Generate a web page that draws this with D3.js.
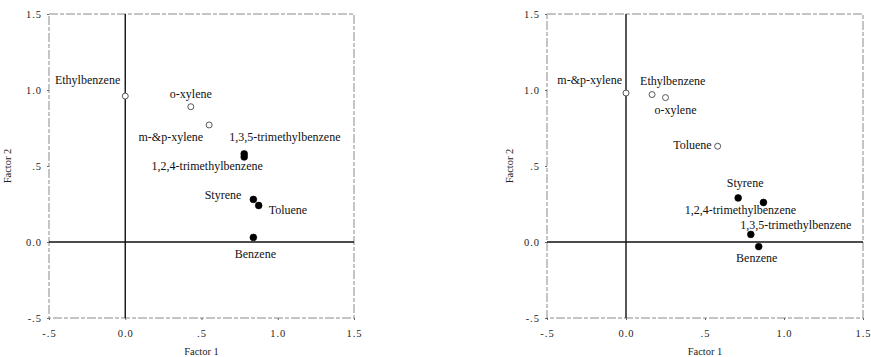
<!DOCTYPE html>
<html>
<head>
<meta charset="utf-8">
<script src="https://cdn.jsdelivr.net/npm/d3@7"></script>
<style>
  body { margin: 0; background: #fff; }
  svg { display: block; font-family: "Liberation Serif", "Times New Roman", serif; }
  .tick text { font-size: 10.5px; fill: #222; letter-spacing: 1px; }
  .axisText { font-size: 10.5px; fill: #222; }
  .ptLabel { font-size: 12px; fill: #111; }
</style>
</head>
<body>
<div class="chart"></div>
<script>
// axis ticks shared by both panels
var tickValues = [-0.5, 0, 0.5, 1.0, 1.5];
var tickLabels = ["-.5", "0.0", ".5", "1.0", "1.5"];

// left panel
var leftNames = ["Ethylbenzene", "o-xylene", "m-&p-xylene", "1,3,5-trimethylbenzene",
    "1,2,4-trimethylbenzene", "Styrene", "Toluene", "Benzene"];
var leftFactor1 = [0.0, 0.43, 0.55, 0.78, 0.78, 0.84, 0.875, 0.84];
var leftFactor2 = [0.96, 0.89, 0.77, 0.58, 0.56, 0.28, 0.24, 0.03];
var leftOpen = [true, true, true, false, false, false, false, false];

// right panel
var rightNames = ["m-&p-xylene", "Ethylbenzene", "o-xylene", "Toluene", "Styrene",
    "1,2,4-trimethylbenzene", "1,3,5-trimethylbenzene", "Benzene"];
var rightFactor1 = [0.0, 0.165, 0.25, 0.58, 0.71, 0.87, 0.79, 0.84];
var rightFactor2 = [0.98, 0.97, 0.95, 0.63, 0.29, 0.26, 0.05, -0.03];
var rightOpen = [true, true, true, true, false, false, false, false];

// label placement (pixel offsets from each point, and anchor)
var leftLabelPos = [[-5, -12, "end"], [0, -9, "middle"], [-6, 16, "end"], [-15, -13, "start"],
    [-37, 13, "middle"], [-12, 0, "end"], [10, 8, "start"], [2, 21, "middle"]];
var rightLabelPos = [[-4, -9, "end"], [-12, -10, "start"], [-11, 16, "start"], [-6, 3, "end"],
    [7, -11, "middle"], [-23, 12, "middle"], [45, -5, "middle"], [-2, 15, "middle"]];

var svgWidth = 871;
var svgHeight = 357;

var svg = d3.select(".chart")
    .append("svg")
    .attr("width", svgWidth)
    .attr("height", svgHeight);

function drawPanel(names, f1, f2, open, labelPos, box, titleX) {
    var xScale = d3.scaleLinear().domain([-0.5, 1.5]).range([box.left, box.right]);
    var yScale = d3.scaleLinear().domain([-0.5, 1.5]).range([box.bottom, box.top]);

    var g = svg.append("g");

    // frame (faint, broken like the scan)
    g.append("rect")
        .attr("x", box.left)
        .attr("y", box.top)
        .attr("width", box.right - box.left)
        .attr("height", box.bottom - box.top)
        .attr("fill", "none")
        .attr("stroke", "#8a8a8a")
        .attr("stroke-width", 1)
        .attr("stroke-dasharray", "9,2,4,2");

    var fmt = function(d) { return tickLabels[tickValues.indexOf(d)]; };

    var leftAxis = d3.axisLeft(yScale).tickValues(tickValues).tickFormat(fmt)
        .tickSize(2).tickPadding(5);
    var bottomAxis = d3.axisBottom(xScale).tickValues(tickValues).tickFormat(fmt)
        .tickSize(2).tickPadding(10);

    var ya = g.append("g").attr("transform", "translate(" + box.left + ",0)").call(leftAxis);
    var xa = g.append("g").attr("transform", "translate(0," + box.bottom + ")").call(bottomAxis);
    [ya, xa].forEach(function(a) {
        a.select(".domain").remove();
        a.selectAll(".tick line").attr("stroke", "#666");
        a.selectAll("text").attr("font-family", "Liberation Serif, serif");
    });

    // zero reference lines
    g.append("line")
        .attr("x1", xScale(0)).attr("x2", xScale(0))
        .attr("y1", box.top).attr("y2", box.bottom)
        .attr("stroke", "#111").attr("stroke-width", 1.4);
    g.append("line")
        .attr("x1", box.left).attr("x2", box.right)
        .attr("y1", yScale(0)).attr("y2", yScale(0))
        .attr("stroke", "#111").attr("stroke-width", 1.4);

    var data = names.map(function(n, i) {
        return { name: n, f1: f1[i], f2: f2[i], open: open[i], pos: labelPos[i] };
    });

    g.selectAll("circle.pt")
        .data(data)
        .enter()
        .append("circle")
        .attr("class", "pt")
        .attr("cx", function(d) { return xScale(d.f1); })
        .attr("cy", function(d) { return yScale(d.f2); })
        .attr("r", function(d) { return d.open ? 3 : 3.4; })
        .attr("fill", function(d) { return d.open ? "#fff" : "#000"; })
        .attr("stroke", function(d) { return d.open ? "#444" : "#000"; })
        .attr("stroke-width", function(d) { return d.open ? 0.9 : 0.6; });

    g.selectAll("text.ptLabel")
        .data(data)
        .enter()
        .append("text")
        .attr("class", "ptLabel")
        .attr("x", function(d) { return xScale(d.f1) + d.pos[0]; })
        .attr("y", function(d) { return yScale(d.f2) + d.pos[1]; })
        .attr("text-anchor", function(d) { return d.pos[2]; })
        .text(function(d) { return d.name; });

    g.append("text")
        .attr("class", "axisText")
        .attr("x", (box.left + box.right) / 2)
        .attr("y", box.bottom + 37)
        .attr("text-anchor", "middle")
        .text("Factor 1");

    g.append("text")
        .attr("class", "axisText")
        .attr("transform", "translate(" + titleX + "," + ((box.top + box.bottom) / 2) + ") rotate(-90)")
        .attr("text-anchor", "middle")
        .text("Factor 2");
}

drawPanel(leftNames, leftFactor1, leftFactor2, leftOpen, leftLabelPos,
    { left: 49, right: 354, top: 14, bottom: 318 }, 11);
drawPanel(rightNames, rightFactor1, rightFactor2, rightOpen, rightLabelPos,
    { left: 547, right: 863, top: 14, bottom: 318 }, 513);
</script>
</body>
</html>
